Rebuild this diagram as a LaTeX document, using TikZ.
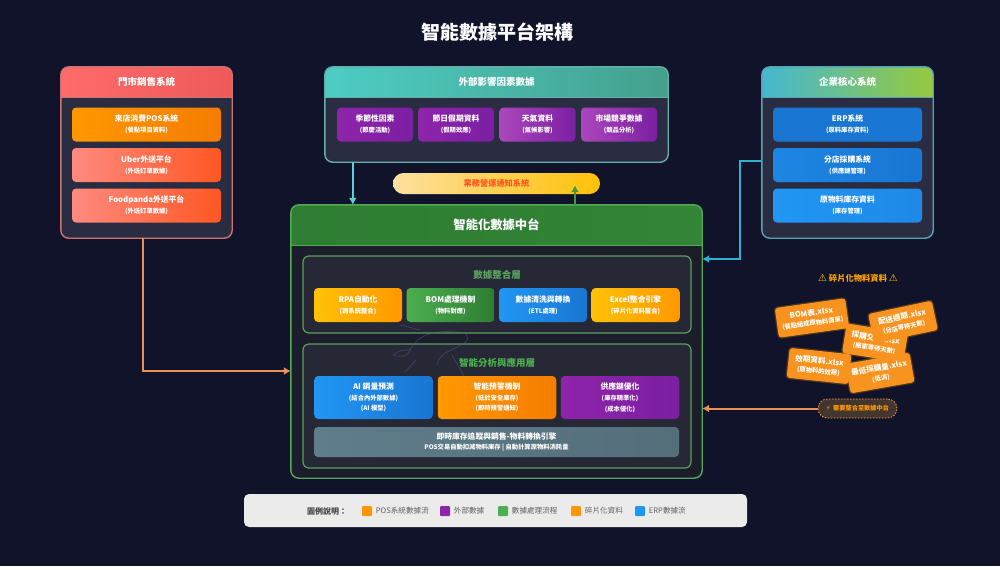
\documentclass[tikz,border=0pt]{standalone}
\usepackage{fontspec}
\usepackage{xcolor}
\usepackage{tikz}
\usetikzlibrary{arrows.meta}
\usetikzlibrary{calc}
\setmainfont{Noto Sans CJK TC}
\newfontfamily\symbfont{DejaVu Sans}
\definecolor{bgcolor}{HTML}{11132A}
\definecolor{panelcolor}{HTML}{2A2D42}
\definecolor{platcolor}{HTML}{1B1D2B}
\definecolor{layercolor}{HTML}{262935}
\definecolor{redA}{HTML}{FF6B6B}
\definecolor{redB}{HTML}{EE5A5A}
\definecolor{tealA}{HTML}{4ECDC4}
\definecolor{tealB}{HTML}{44A08D}
\definecolor{coreA}{HTML}{45B7D1}
\definecolor{coreB}{HTML}{96C93D}
\definecolor{orangeA}{HTML}{FF9800}
\definecolor{orangeB}{HTML}{F57C00}
\definecolor{salmonA}{HTML}{FF8A80}
\definecolor{salmonB}{HTML}{FF5722}
\definecolor{purpleA}{HTML}{8E24AA}
\definecolor{purpleB}{HTML}{7B1FA2}
\definecolor{lilacA}{HTML}{AB47BC}
\definecolor{blueA}{HTML}{2196F3}
\definecolor{blueB}{HTML}{1976D2}
\definecolor{greenA}{HTML}{4CAF50}
\definecolor{greenB}{HTML}{2E7D32}
\definecolor{amberA}{HTML}{FFC107}
\definecolor{creamA}{HTML}{FFE0A0}
\definecolor{slateA}{HTML}{607D8B}
\definecolor{slateB}{HTML}{546E7A}
\definecolor{fragcolor}{HTML}{F7931E}
\definecolor{notefill}{HTML}{43362F}
\definecolor{linkorange}{HTML}{EC9055}
\definecolor{linkteal}{HTML}{5CCFD8}
\definecolor{linkblue}{HTML}{2CB2D2}
\definecolor{linkgreen}{HTML}{46973C}
\tikzset{
  panel/.style={rounded corners=8pt,fill=panelcolor,inner sep=0pt},
  card/.style={rounded corners=4pt,inner sep=0pt,text=white,align=center,
    font=\bfseries\fontsize{7.8}{10.5}\selectfont},
  frag/.style={rounded corners=3pt,fill=fragcolor,inner sep=0pt,text=white,align=center,
    minimum height=30pt,font=\bfseries\fontsize{7.6}{11}\selectfont,
    preaction={draw=orangeA,draw opacity=0.25,line width=2.5pt}},
  layer/.style={rounded corners=6pt,fill=layercolor,inner sep=0pt,line width=1.2pt,draw=greenA!65!gray},
  link/.style={line width=2pt,-{Latex[length=7pt,width=8pt]}},
  swatch/.style={minimum size=10pt,inner sep=0pt,rounded corners=1pt},
  legendtext/.style={anchor=west,inner sep=0pt,text=black!62,font=\fontsize{7.6}{9}\selectfont}
}
\newcommand{\subline}{\fontsize{6.3}{9}\selectfont}
% coloured top of a panel: name, bottom edge, two colours, line, text, text size
\newcommand{\panelhead}[7]{
  \shade[left color=#3,right color=#4]
    (#1.west |- 0,#2) [rounded corners=8pt] -- (#1.north west) -- (#1.north east) [sharp corners] -- (#1.east |- 0,#2) -- cycle;
  \draw[#5,line width=1.4pt,rounded corners=8pt] (#1.north west) rectangle (#1.south east);
  \draw[#5,line width=1pt] (#1.west |- 0,#2) -- (#1.east |- 0,#2);
  \node[text=white,inner sep=0pt,font=\bfseries\fontsize{#7}{#7}\selectfont] (#1head) at ($(#1.north)!0.5!(#1.north |- 0,#2)$) {#6};
}
\begin{document}
\begin{tikzpicture}[x=1pt,y=-1pt]
\useasboundingbox (0,0) rectangle (1000,566);
\fill[bgcolor] (0,0) rectangle (1000,566);
\node[text=white,inner sep=0pt,font=\bfseries\fontsize{19}{19}\selectfont] (title) at (497,32) {智能數據平台架構};

%% three source panels
\node[panel,minimum width=171pt,minimum height=171pt] (store) at (146.5,152.5) {};
\panelhead{store}{97}{redA}{redB}{redA!60!gray}{門市銷售系統}{9.5}
\node[panel,minimum width=343pt,minimum height=95pt] (external) at (496.5,114.5) {};
\panelhead{external}{97}{tealA}{tealB}{tealA!60!gray}{外部影響因素數據}{9.5}
\node[panel,minimum width=171pt,minimum height=171pt] (core) at (847.5,152.5) {};
\panelhead{core}{97}{coreA}{coreB}{coreA!65!gray}{企業核心系統}{9.5}

\foreach \nm/\ya/\ca/\cb/\tta/\ttb in {
   pos/124.5/orangeA/orangeB/來店消費POS系統/餐點項目資料,
   uber/165/salmonA/salmonB/Uber外送平台/外送訂單數據,
   panda/205.5/salmonA/salmonB/Foodpanda外送平台/外送訂單數據}
  \node[card,left color=\ca,right color=\cb,minimum width=149pt,minimum height=34pt] (\nm) at (146.5,\ya) {\tta\\[0.5pt]{\subline(\ttb)}};
\foreach \nm/\ya/\ca/\cb/\tta/\ttb in {
   erp/124.5/blueB/blueB/ERP系統/原料庫存資料,
   branch/165/blueA!50!blueB/blueB/分店採購系統/供應鏈管理,
   stock/205.5/blueA/blueA!60!blueB/原物料庫存資料/庫存管理}
  \node[card,left color=\ca,right color=\cb,minimum width=149pt,minimum height=34pt] (\nm) at (847.5,\ya) {\tta\\[0.5pt]{\subline(\ttb)}};
\foreach \nm/\xa/\ca/\tta/\ttb in {
   season/375/purpleA/季節性因素/節慶活動,
   holiday/456/purpleA/節日假期資料/假期效應,
   weather/537.5/lilacA/天氣資料/氣候影響,
   market/619/lilacA/市場競爭數據/競品分析}
  \node[card,left color=\ca,right color=purpleB,minimum width=76pt,minimum height=34pt] (\nm) at (\xa,124.5) {\tta\\[0.5pt]{\subline(\ttb)}};

%% notice bar
\node[rounded corners=10.5pt,left color=creamA,right color=amberA,minimum width=207pt,minimum height=21pt,inner sep=0pt,text=salmonB,font=\bfseries\fontsize{8.2}{9}\selectfont] (notify) at (496.5,183.5) {業務營運通知系統};

%% platform
\node[rounded corners=9pt,fill=platcolor,minimum width=411pt,minimum height=273pt,inner sep=0pt] (platform) at (496.5,341.5) {};
\panelhead{platform}{245}{greenB}{greenB!85!greenA}{greenA!85!gray}{智能化數據中台}{12.3}

\node[layer,minimum width=388pt,minimum height=77pt] (layerone) at (497,294.5) {};
\node[layer,minimum width=388pt,minimum height=124pt] (layertwo) at (497,406) {};
\node[inner sep=0pt,text=greenA!75!gray,font=\bfseries\fontsize{9.5}{10}\selectfont] (layeronetext) at (497,275) {數據整合層};
\node[inner sep=0pt,text=greenA,font=\bfseries\fontsize{9.5}{10}\selectfont] (layertwotext) at (497,362.5) {智能分析與應用層};

\foreach \nm/\xa/\ca/\cb/\tta/\ttb in {
   rpa/358/amberA/orangeA/RPA自動化/跨系統整合,
   bom/450.5/greenA/greenB/BOM處理機制/物料對應,
   etl/543/blueA/blueB/數據清洗與轉換/ETL處理,
   excel/635.5/amberA/orangeA/Excel整合引擎/碎片化資料整合}
  \node[card,left color=\ca,right color=\cb,minimum width=88pt,minimum height=34pt] (\nm) at (\xa,305) {\tta\\[0.5pt]{\subline(\ttb)}};
\foreach \nm/\xa/\ca/\cb/\tta/\ttb/\ttc in {
   forecast/373.5/blueA/blueB/AI 銷量預測/結合內外部數據/AI 模型,
   alert/497/orangeA/orangeB/智能預警機制/低於安全庫存/即時預警通知,
   supply/620/purpleA/purpleB/供應鏈優化/庫存精準化/成本優化}
  \node[card,left color=\ca,right color=\cb,minimum width=118.5pt,minimum height=43pt] (\nm) at (\xa,397.5) {\tta\\[0.5pt]{\subline(\ttb)}\\[0pt]{\subline(\ttc)}};
\node[card,left color=slateA,right color=slateB,minimum width=365pt,minimum height=30pt] (engine) at (496.5,442) {即時庫存追蹤與銷售-物料轉換引擎\\[-0.5pt]{\subline POS交易自動扣減物料庫存 | 自動計算原物料消耗量}};

%% faint watermark over the two layers
\draw[blue!25!gray,opacity=0.45,line width=0.7pt] (410,350) .. controls (420,330) and (445,330) .. (464,333) .. controls (470,336) and (468,343) .. (462,344)
   .. controls (450,352) and (440,352) .. (437,365);
\draw[blue!25!gray,opacity=0.45,line width=0.7pt] (393,355) .. controls (398,350) and (405,350) .. (410,350) .. controls (408,356) and (402,358) .. (393,355);
\draw[blue!25!gray,opacity=0.45,line width=0.7pt] (452,355) -- (464,376);
\draw[blue!25!gray,opacity=0.45,line width=0.7pt] (400,325) -- (420,330);
\draw[blue!25!gray,opacity=0.45,line width=0.7pt] (405,372) -- (416,360);

%% scattered spreadsheet cards
\node[inner sep=0pt,text=orangeA!70!amberA,font=\bfseries\fontsize{8.3}{10}\selectfont] (fragtitle) at (858,278.5) {{\symbfont\fontsize{10}{10}\selectfont\color{amberA}⚠} 碎片化物料資料 {\symbfont\fontsize{10}{10}\selectfont\color{amberA}⚠}};
\node[frag,rotate=8,minimum width=71pt] (fragbom) at (812,318) {BOM表.xlsx\\[-1pt]{\subline(餐點組成原物料清單)}};
\node[frag,rotate=-9,minimum width=62pt] (fragbuy) at (875,343) {採購交期.xlsx\\[-1pt]{\subline(廠家等待天數)}};
\node[frag,rotate=12,minimum width=65pt] (fragship) at (903,322) {配送週期.xlsx\\[-1pt]{\subline(分店等待天數)}};
\node[frag,rotate=-6,minimum width=62pt] (fragdate) at (819,366) {效期資料.xlsx\\[-1pt]{\subline(原物料的效期)}};
\node[frag,rotate=10,minimum width=65pt] (fragmin) at (880,373) {最低採購量.xlsx\\[-1pt]{\subline(低消)}};
\node[rounded corners=9.5pt,fill=notefill,draw=orange!75!white,dash pattern=on 1.5pt off 1.5pt,line width=0.8pt,minimum width=79pt,minimum height=19pt,inner sep=0pt,text=orangeA,font=\bfseries\fontsize{6.2}{8}\selectfont] (fragnote) at (857.5,408.5) {{\symbfont\color{amberA}⚡}\ \ 需要整合至數據中台};

%% connectors
\draw[link,linkorange] ([xshift=-3.5pt]store.south) |- ([yshift=-29.5pt]platform.west);
\draw[link,linkteal] ([xshift=28pt]external.south west) -- ([xshift=62pt]platform.north west);
\draw[link,linkgreen] ([xshift=78.5pt]platform.north) -- ([xshift=78.5pt,yshift=9pt]notify.south);
\draw[link,linkblue] ([yshift=-8.5pt]core.west) -- ++(-22,0) |- ([yshift=82.5pt]platform.east);
\draw[link,linkorange] (fragnote.west) -- (platform.east |- fragnote.west);

%% legend
\node[rounded corners=5pt,fill=black!8,minimum width=503pt,minimum height=33pt,inner sep=0pt] (legend) at (495.5,510.5) {};
\node[inner sep=0pt,text=black!72,font=\bfseries\fontsize{8}{9}\selectfont] (legendtitle) at (327,511) {圖例說明：};
\foreach \nm/\xa/\ca/\tta in {
   pos/367/orangeA/POS系統數據流,
   ext/445/purpleA/外部數據,
   proc/503/greenA/數據處理流程,
   frag/576/orangeA/碎片化資料,
   erp/640/blueA/ERP數據流}
  {\node[swatch,fill=\ca] (key\nm) at (\xa,511) {};
   \node[legendtext] (keytext\nm) at ([xshift=3.5pt]key\nm.east) {\tta};}
\end{tikzpicture}
\end{document}
